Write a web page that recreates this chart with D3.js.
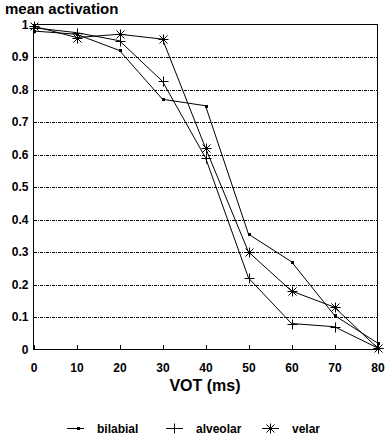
<!DOCTYPE html>
<html>
<head>
<meta charset="utf-8">
<script src="https://cdnjs.cloudflare.com/ajax/libs/d3/7.8.5/d3.min.js"></script>
<style>
  body { margin: 0; background: #fff; }
  text { font-family: "Liberation Sans", Arial, sans-serif; font-weight: bold; fill: #000; }
</style>
</head>
<body>
<div id="chart"></div>
<script>
var vot = [0, 10, 20, 30, 40, 50, 60, 70, 80];
var bilabial = [0.98, 0.97, 0.92, 0.77, 0.75, 0.355, 0.27, 0.105, 0.02];
var alveolar = [0.99, 0.975, 0.95, 0.825, 0.59, 0.22, 0.08, 0.07, 0.005];
var velar = [0.995, 0.96, 0.97, 0.955, 0.62, 0.30, 0.18, 0.13, 0.005];
var yTicks = [0, 0.1, 0.2, 0.3, 0.4, 0.5, 0.6, 0.7, 0.8, 0.9, 1];
var xTicks = [0, 10, 20, 30, 40, 50, 60, 70, 80];

var series = [
  { name: "bilabial", values: bilabial, marker: "square" },
  { name: "alveolar", values: alveolar, marker: "plus" },
  { name: "velar", values: velar, marker: "star" }
];

var width = 392, height = 441;
var x = d3.scaleLinear().domain([0, 80]).range([33.5, 377.5]);
var y = d3.scaleLinear().domain([0, 1]).range([349.5, 24.5]);

var svg = d3.select("#chart").append("svg")
    .attr("width", width)
    .attr("height", height);

// dotted grid lines
svg.append("g").selectAll("line")
    .data(yTicks.filter(function(d) { return d > 0 && d < 1; }))
    .enter().append("line")
    .attr("x1", x(0)).attr("x2", x(80))
    .attr("y1", function(d) { return Math.round(y(d)) + 0.5; })
    .attr("y2", function(d) { return Math.round(y(d)) + 0.5; })
    .attr("stroke", "#000")
    .attr("stroke-dasharray", "3,1,1,1")
    .attr("shape-rendering", "crispEdges");

// frame
svg.append("rect")
    .attr("x", x(0)).attr("y", y(1))
    .attr("width", x(80) - x(0)).attr("height", y(0) - y(1))
    .attr("fill", "none").attr("stroke", "#000")
    .attr("shape-rendering", "crispEdges");

// x ticks (inward) and labels
var xAxis = d3.axisBottom(x).tickValues(xTicks).tickSizeInner(-5).tickSizeOuter(0).tickPadding(14);
var gx = svg.append("g").attr("transform", "translate(0," + y(0) + ")").call(xAxis);
gx.select(".domain").remove();
gx.selectAll("line").attr("shape-rendering", "crispEdges");
gx.selectAll("text").style("font-size", "12px").style("font-family", "Liberation Sans, Arial, sans-serif").style("font-weight", "bold");

// y labels
var yAxis = d3.axisLeft(y).tickValues(yTicks).tickSize(0).tickPadding(5)
    .tickFormat(function(d) { return d === 0 || d === 1 ? d3.format("d")(d) : d3.format(".1f")(d); });
var gy = svg.append("g").attr("transform", "translate(" + x(0) + ",0)").call(yAxis);
gy.select(".domain").remove();
gy.selectAll("text").style("font-size", "12px").style("font-family", "Liberation Sans, Arial, sans-serif").style("font-weight", "bold");

// titles
svg.append("text").attr("x", 5).attr("y", 14).style("font-size", "15px").text("mean activation");
svg.append("text").attr("x", 205).attr("y", 391).attr("text-anchor", "middle").style("font-size", "16px").text("VOT (ms)");

function drawMarker(g, type, cx, cy) {
  if (type === "square") {
    g.append("rect").attr("x", cx - 1.5).attr("y", cy - 1.5).attr("width", 3).attr("height", 3).attr("fill", "#000");
  } else if (type === "plus") {
    g.append("path").attr("d", "M" + (cx - 5) + "," + cy + "H" + (cx + 5) + "M" + cx + "," + (cy - 5) + "V" + (cy + 5))
      .attr("stroke", "#000").attr("fill", "none");
  } else {
    g.append("path").attr("d", "M" + (cx - 5) + "," + cy + "H" + (cx + 5) + "M" + cx + "," + (cy - 5) + "V" + (cy + 5) +
        "M" + (cx - 4) + "," + (cy - 4) + "L" + (cx + 4) + "," + (cy + 4) +
        "M" + (cx - 4) + "," + (cy + 4) + "L" + (cx + 4) + "," + (cy - 4))
      .attr("stroke", "#000").attr("fill", "none");
  }
}

var line = d3.line()
    .x(function(d, i) { return x(vot[i]); })
    .y(function(d) { return y(d); });

series.forEach(function(s) {
  var g = svg.append("g");
  g.append("path").attr("d", line(s.values)).attr("fill", "none").attr("stroke", "#000").attr("stroke-width", 1);
  s.values.forEach(function(v, i) {
    drawMarker(g, s.marker, Math.round(x(vot[i])) + 0.5, Math.round(y(v)) + 0.5);
  });
});

// legend
var legendX = [67, 166, 262];
series.forEach(function(s, i) {
  var g = svg.append("g");
  var lx = legendX[i], ly = 428.5;
  g.append("line").attr("x1", lx).attr("x2", lx + 17).attr("y1", ly).attr("y2", ly).attr("stroke", "#000");
  drawMarker(g, s.marker, lx + (s.marker === "square" ? 11.5 : 8.5), ly);
  g.append("text").attr("x", lx + 30).attr("y", ly + 4).style("font-size", "12px").text(s.name);
});
</script>
</body>
</html>
